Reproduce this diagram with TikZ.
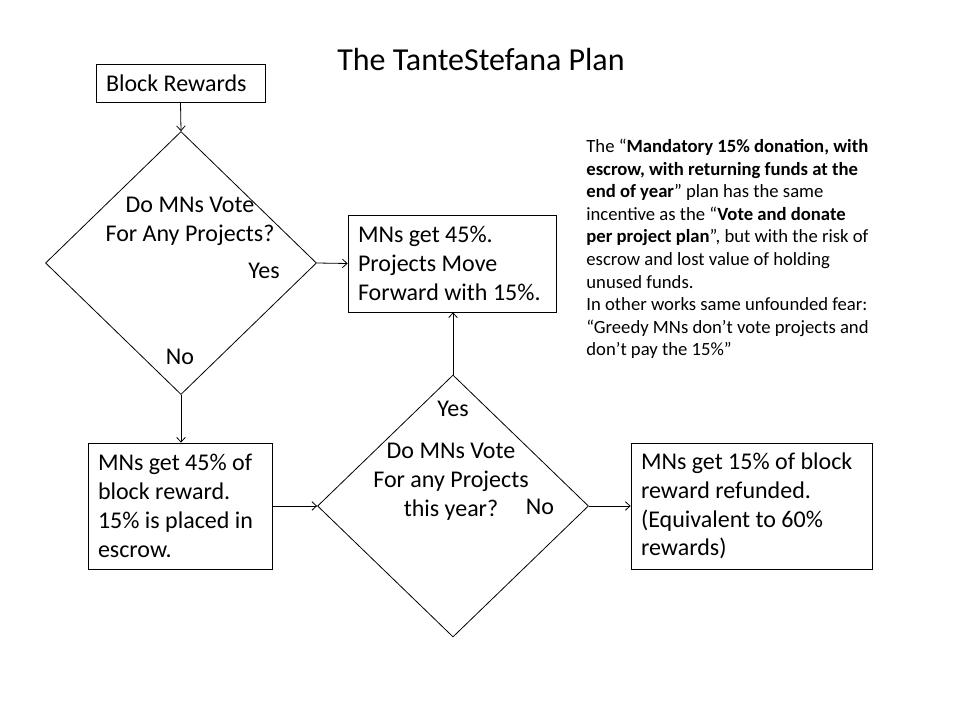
\documentclass[tikz,border=0pt]{standalone}
\usepackage{fontspec}
\setmainfont{Carlito}
\usetikzlibrary{shapes.geometric,arrows.meta}

\begin{document}
\begin{tikzpicture}[x=0.75pt,y=-0.75pt,line width=0.6pt,
  box/.style={draw,rectangle,inner xsep=7.5pt,inner ysep=0pt,align=flush left,font=\fontsize{18}{21.6}\selectfont},
  dia/.style={draw,diamond,inner sep=0pt},
  lbl/.style={inner sep=0pt,align=center,font=\fontsize{18}{21.6}\selectfont},
  flow/.style={-{Straight Barb[length=3.5pt,width=6.5pt]}}]
  \useasboundingbox (0,0) rectangle (960,720);
  \node[lbl,font=\fontsize{24}{28}\selectfont] (title) at (481,60) {The TanteStefana Plan};
  \node[box,minimum width=126.75pt,minimum height=28.5pt,text width=111.75pt] (blk) at (180.5,83) {Block Rewards};
  \node[dia,minimum width=203.25pt,minimum height=197.25pt] (q1) at (181,263) {};
  \node[lbl] (q1t) at (190,221) {Do MNs Vote\\For Any Projects?};
  \node[lbl] (q1y) at (264,271) {Yes};
  \node[lbl] (q1n) at (180,357) {No};
  \node[box,minimum width=156pt,minimum height=72.75pt,text width=141pt] (go) at (452,263.5) {MNs get 45\%.\\Projects Move\\Forward with 15\%.};
  \node[box,minimum width=138pt,minimum height=94.5pt,text width=123pt] (esc) at (180,506) {MNs get 45\% of\\block reward.\\15\% is placed in\\escrow.};
  \node[dia,minimum width=203.25pt,minimum height=196.5pt] (q2) at (453,506) {};
  \node[lbl] (q2y) at (453,409) {Yes};
  \node[lbl] (q2t) at (451,482) {Do MNs Vote\\For any Projects\\this year?};
  \node[lbl] (q2n) at (540,507) {No};
  \node[box,minimum width=180.75pt,minimum height=94.5pt,text width=165.75pt] (ref) at (751.5,506) {MNs get 15\% of block\\reward refunded.\\(Equivalent to 60\%\\rewards)};
  \node[inner sep=0pt,anchor=west,align=left,font=\fontsize{14}{16.9}\selectfont] (note) at (586,249)
    {The “\textbf{Mandatory 15\% donation, with}\\\textbf{escrow, with returning funds at the}\\\textbf{end of year}” plan has the same\\incentive as the “\textbf{Vote and donate}\\\textbf{per project plan}”, but with the risk of\\escrow and lost value of holding\\unused funds.\\In other works same unfounded fear:\\“Greedy MNs don’t vote projects and\\don’t pay the 15\%”};
  % connectors
  \draw[flow] (blk.south) -- (q1.north);
  \draw[flow] (q1.east) -- (go.west);
  \draw[flow] (q1.south) -- (q1.south |- esc.north);
  \draw[flow] (esc.east) -- (q2.west);
  \draw[flow] (q2.north) -- (q2.north |- go.south);
  \draw[flow] (q2.east) -- (ref.west);
\end{tikzpicture}
\end{document}
